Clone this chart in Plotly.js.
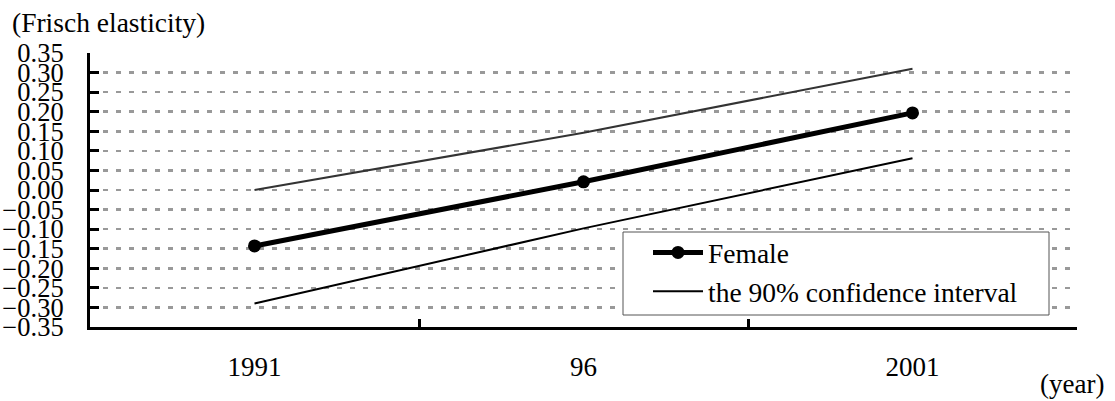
<!DOCTYPE html>
<html>
<head>
<meta charset="utf-8">
<script src="https://cdn.plot.ly/plotly-3.0.1.min.js"></script>
<style>html,body{margin:0;padding:0;background:#fff;}#chart{width:1115px;height:401px;}</style>
</head>
<body>
<div id="chart"></div>
<script>
var years = ["1991", "96", "2001"];
var female = [-0.143, 0.021, 0.197];
var upperCI = [0.000, 0.146, 0.310];
var lowerCI = [-0.290, -0.098, 0.081];

var FONT = "Liberation Serif";

var traces = [
  {x: years, y: upperCI, type: "scatter", mode: "lines", name: "the 90% confidence interval",
   legendgroup: "ci", showlegend: false, line: {color: "#333333", width: 2}},
  {x: years, y: lowerCI, type: "scatter", mode: "lines", name: "the 90% confidence interval",
   legendgroup: "ci", showlegend: true, line: {color: "#000000", width: 2}},
  {x: years, y: female, type: "scatter", mode: "lines+markers", name: "Female",
   legendgroup: "f", line: {color: "#000000", width: 5}, marker: {color: "#000000", size: 13}}
];

var W = 1115, H = 401, L = 90, R = 38, T = 53, B = 74;
var pw = W - L - R, ph = H - T - B;
function px(x) { return (x - L) / pw; }
function py(y) { return (H - B - y) / ph; }

var layout = {
  width: W, height: H,
  margin: {l: L, r: R, t: T, b: B, pad: 0},
  paper_bgcolor: "#ffffff", plot_bgcolor: "#ffffff",
  font: {family: FONT, size: 27, color: "#000000"},
  showlegend: true,
  hovermode: false,
  legend: {
    x: px(648), y: py(228), xanchor: "left", yanchor: "top",
    bgcolor: "rgba(0,0,0,0)", borderwidth: 0,
    traceorder: "reversed", tracegroupgap: 14, itemwidth: 50,
    font: {family: FONT, size: 27.5, color: "#000"}
  },
  xaxis: {
    type: "category", categoryorder: "array", categoryarray: years,
    range: [-0.5, 2.5], tickson: "boundaries",
    ticks: "inside", ticklen: 8, tickwidth: 3, tickcolor: "#000",
    showline: true, linecolor: "#000", linewidth: 3,
    showgrid: false, zeroline: false,
    ticklabelstandoff: 14,
    tickfont: {family: FONT, size: 27, color: "#000"}
  },
  yaxis: {
    range: [-0.35, 0.35], tickmode: "linear", tick0: -0.35, dtick: 0.05,
    tickformat: ".2f",
    ticks: "inside", ticklen: 9, tickwidth: 3, tickcolor: "#000",
    showline: true, linecolor: "#000", linewidth: 3,
    showgrid: true, gridcolor: "#999999", gridwidth: 2.5, griddash: "5px,8px",
    zeroline: false,
    ticklabelstandoff: 18,
    tickfont: {family: FONT, size: 26.5, color: "#000"}
  },
  shapes: [
    {type: "rect", xref: "paper", yref: "paper", layer: "above",
     x0: px(623), x1: px(1049), y0: py(315), y1: py(232),
     fillcolor: "#ffffff", line: {color: "#555555", width: 1}}
  ],
  annotations: [
    {text: "(Frisch elasticity)", xref: "paper", yref: "paper", x: px(10), y: py(22),
     xanchor: "left", yanchor: "middle", showarrow: false,
     font: {family: FONT, size: 27.5, color: "#000"}},
    {text: "(year)", xref: "paper", yref: "paper", x: px(1106), y: py(384),
     xanchor: "right", yanchor: "middle", showarrow: false,
     font: {family: FONT, size: 27, color: "#000"}}
  ]
};

Plotly.newPlot("chart", traces, layout, {displayModeBar: false, staticPlot: true});
</script>
</body>
</html>
